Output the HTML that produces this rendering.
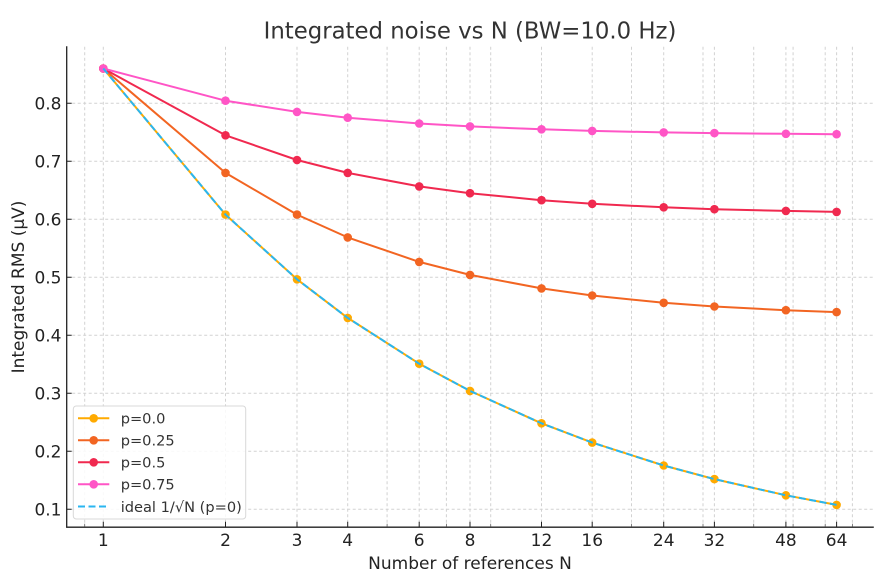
<!DOCTYPE html>
<html><head><meta charset="utf-8"><style>
html,body{margin:0;padding:0;background:#fff;}
svg{display:block;font-family:"DejaVu Sans","Liberation Sans",sans-serif;}
</style></head><body>
<svg width="875" height="582" viewBox="0 0 875 582" xmlns="http://www.w3.org/2000/svg">
<rect width="875" height="582" fill="#fff"/>
<!-- grid -->
<g stroke="#d2d2d2" stroke-width="1" stroke-dasharray="3,2.5" fill="none">
<path d="M84.7 46.7V526.7M103.3 46.7V526.7M225.5 46.7V526.7M297 46.7V526.7M347.7 46.7V526.7M387.1 46.7V526.7M419.2 46.7V526.7M446.4 46.7V526.7M470 46.7V526.7M490.7 46.7V526.7M541.5 46.7V526.7M592.2 46.7V526.7M631.5 46.7V526.7M663.7 46.7V526.7M703 46.7V526.7M714.4 46.7V526.7M753.7 46.7V526.7M785.9 46.7V526.7M793.1 46.7V526.7M825.2 46.7V526.7M836.6 46.7V526.7M852.4 46.7V526.7"/>
<path d="M66.7 103.3H873.3M66.7 161.3H873.3M66.7 219.3H873.3M66.7 277.3H873.3M66.7 335.3H873.3M66.7 393.3H873.3M66.7 451.3H873.3M66.7 509.3H873.3"/>
</g>
<!-- series -->
<g fill="none" stroke-width="2" stroke-linejoin="round">
<polyline stroke="#FFAA00" points="103.3,68.5 225.5,214.6 297,279.3 347.7,317.9 419.2,363.7 470,390.9 541.5,423.3 592.2,442.6 663.7,465.5 714.4,479.1 785.9,495.3 836.6,504.9"/>
<polyline stroke="#F26522" points="103.3,68.5 225.5,172.9 297,214.6 347.7,237.4 419.2,261.9 470,274.9 541.5,288.4 592.2,295.5 663.7,302.8 714.4,306.5 785.9,310.2 836.6,312.1"/>
<polyline stroke="#F0294F" points="103.3,68.5 225.5,135.3 297,160 347.7,172.9 419.2,186.4 470,193.2 541.5,200.2 592.2,203.8 663.7,207.3 714.4,209.2 785.9,210.9 836.6,211.9"/>
<polyline stroke="#FF55C6" points="103.3,68.5 225.5,100.7 297,111.9 347.7,117.7 419.2,123.5 470,126.4 541.5,129.3 592.2,130.9 663.7,132.4 714.4,133.1 785.9,133.8 836.6,134.2"/>
</g>
<g fill="#FFAA00">
<circle cx="103.3" cy="68.5" r="4.3"/><circle cx="225.5" cy="214.6" r="4.3"/><circle cx="297" cy="279.3" r="4.3"/><circle cx="347.7" cy="317.9" r="4.3"/><circle cx="419.2" cy="363.7" r="4.3"/><circle cx="470" cy="390.9" r="4.3"/><circle cx="541.5" cy="423.3" r="4.3"/><circle cx="592.2" cy="442.6" r="4.3"/><circle cx="663.7" cy="465.5" r="4.3"/><circle cx="714.4" cy="479.1" r="4.3"/><circle cx="785.9" cy="495.3" r="4.3"/><circle cx="836.6" cy="504.9" r="4.3"/>
</g>
<g fill="#F26522">
<circle cx="103.3" cy="68.5" r="4.3"/><circle cx="225.5" cy="172.9" r="4.3"/><circle cx="297" cy="214.6" r="4.3"/><circle cx="347.7" cy="237.4" r="4.3"/><circle cx="419.2" cy="261.9" r="4.3"/><circle cx="470" cy="274.9" r="4.3"/><circle cx="541.5" cy="288.4" r="4.3"/><circle cx="592.2" cy="295.5" r="4.3"/><circle cx="663.7" cy="302.8" r="4.3"/><circle cx="714.4" cy="306.5" r="4.3"/><circle cx="785.9" cy="310.2" r="4.3"/><circle cx="836.6" cy="312.1" r="4.3"/>
</g>
<g fill="#F0294F">
<circle cx="103.3" cy="68.5" r="4.3"/><circle cx="225.5" cy="135.3" r="4.3"/><circle cx="297" cy="160" r="4.3"/><circle cx="347.7" cy="172.9" r="4.3"/><circle cx="419.2" cy="186.4" r="4.3"/><circle cx="470" cy="193.2" r="4.3"/><circle cx="541.5" cy="200.2" r="4.3"/><circle cx="592.2" cy="203.8" r="4.3"/><circle cx="663.7" cy="207.3" r="4.3"/><circle cx="714.4" cy="209.2" r="4.3"/><circle cx="785.9" cy="210.9" r="4.3"/><circle cx="836.6" cy="211.9" r="4.3"/>
</g>
<g fill="#FF55C6">
<circle cx="103.3" cy="68.5" r="4.3"/><circle cx="225.5" cy="100.7" r="4.3"/><circle cx="297" cy="111.9" r="4.3"/><circle cx="347.7" cy="117.7" r="4.3"/><circle cx="419.2" cy="123.5" r="4.3"/><circle cx="470" cy="126.4" r="4.3"/><circle cx="541.5" cy="129.3" r="4.3"/><circle cx="592.2" cy="130.9" r="4.3"/><circle cx="663.7" cy="132.4" r="4.3"/><circle cx="714.4" cy="133.1" r="4.3"/><circle cx="785.9" cy="133.8" r="4.3"/><circle cx="836.6" cy="134.2" r="4.3"/>
</g>
<polyline fill="none" stroke="#29B6F0" stroke-width="2" stroke-dasharray="7,3.5" points="103.3,68.5 225.5,214.6 297,279.3 347.7,317.9 419.2,363.7 470,390.9 541.5,423.3 592.2,442.6 663.7,465.5 714.4,479.1 785.9,495.3 836.6,504.9"/>
<!-- spines -->
<path d="M66.7 46.2V527.2H873.8" fill="none" stroke="#222" stroke-width="1.3"/>
<!-- ticks (inward) -->
<g stroke="#222" stroke-width="1">
<path d="M103.3 526.7v-5M225.5 526.7v-5M297 526.7v-5M347.7 526.7v-5M419.2 526.7v-5M470 526.7v-5M541.5 526.7v-5M592.2 526.7v-5M663.7 526.7v-5M714.4 526.7v-5M785.9 526.7v-5M836.6 526.7v-5"/>
<path d="M66.7 103.3h5M66.7 161.3h5M66.7 219.3h5M66.7 277.3h5M66.7 335.3h5M66.7 393.3h5M66.7 451.3h5M66.7 509.3h5"/>
</g>
<g stroke="#666" stroke-width="0.8">
<path d="M84.7 526.7v-3M387.1 526.7v-3M446.4 526.7v-3M490.7 526.7v-3M631.5 526.7v-3M703 526.7v-3M753.7 526.7v-3M793.1 526.7v-3M825.2 526.7v-3M852.4 526.7v-3"/>
</g>
<!-- tick labels -->
<g font-size="17" fill="#222" text-anchor="end">
<text x="61.5" y="109.6">0.8</text><text x="61.5" y="167.6">0.7</text><text x="61.5" y="225.6">0.6</text><text x="61.5" y="283.6">0.5</text><text x="61.5" y="341.6">0.4</text><text x="61.5" y="399.6">0.3</text><text x="61.5" y="457.6">0.2</text><text x="61.5" y="515.6">0.1</text>
</g>
<g font-size="17" fill="#222" text-anchor="middle">
<text x="103.3" y="546">1</text><text x="225.5" y="546">2</text><text x="297" y="546">3</text><text x="347.7" y="546">4</text><text x="419.2" y="546">6</text><text x="470" y="546">8</text><text x="541.5" y="546">12</text><text x="592.2" y="546">16</text><text x="663.7" y="546">24</text><text x="714.4" y="546">32</text><text x="785.9" y="546">48</text><text x="836.6" y="546">64</text>
</g>
<!-- axis labels -->
<text x="470" y="569" font-size="17" fill="#222" text-anchor="middle">Number of references N</text>
<text transform="translate(24,287) rotate(-90)" font-size="17" fill="#222" text-anchor="middle">Integrated RMS (μV)</text>
<text x="470" y="38.5" font-size="22.8" fill="#333" text-anchor="middle">Integrated noise vs N (BW=10.0 Hz)</text>
<!-- legend -->
<rect x="73.3" y="406" width="172.4" height="113" rx="3" ry="3" fill="#fff" fill-opacity="0.85" stroke="#d8d8d8" stroke-width="1"/>
<g stroke-width="2">
<line x1="78" y1="418.3" x2="109.3" y2="418.3" stroke="#FFAA00"/><circle cx="93.7" cy="418.3" r="4.3" fill="#FFAA00"/>
<line x1="78" y1="440.3" x2="109.3" y2="440.3" stroke="#F26522"/><circle cx="93.7" cy="440.3" r="4.3" fill="#F26522"/>
<line x1="78" y1="462.3" x2="109.3" y2="462.3" stroke="#F0294F"/><circle cx="93.7" cy="462.3" r="4.3" fill="#F0294F"/>
<line x1="78" y1="484.3" x2="109.3" y2="484.3" stroke="#FF55C6"/><circle cx="93.7" cy="484.3" r="4.3" fill="#FF55C6"/>
<line x1="78" y1="506.5" x2="109.3" y2="506.5" stroke="#29B6F0" stroke-dasharray="7,3.5"/>
</g>
<g font-size="14.6" fill="#333">
<text x="120.7" y="423.6">p=0.0</text>
<text x="120.7" y="445.6">p=0.25</text>
<text x="120.7" y="467.6">p=0.5</text>
<text x="120.7" y="489.6">p=0.75</text>
<text x="120.7" y="511.8">ideal 1/√N (p=0)</text>
</g>
</svg>
</body></html>
